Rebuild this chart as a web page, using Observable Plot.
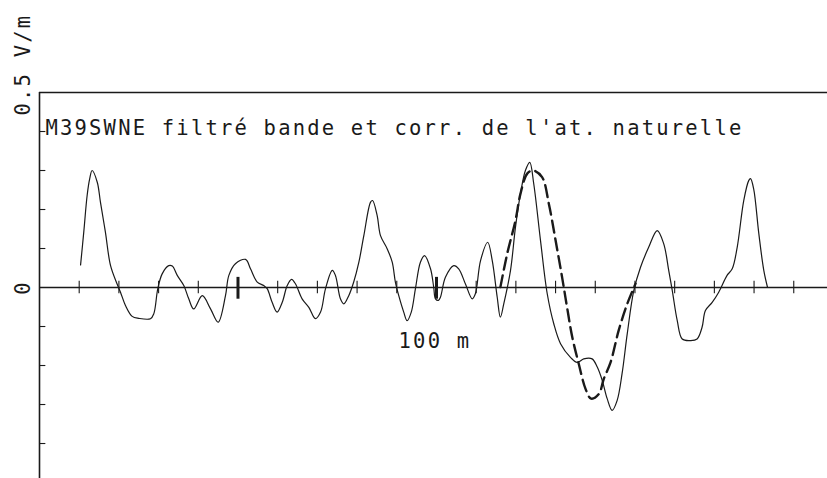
<!DOCTYPE html>
<html>
<head>
<meta charset="utf-8">
<script src="https://cdn.jsdelivr.net/npm/d3@7"></script>
<script src="https://cdn.jsdelivr.net/npm/@observablehq/plot@0.6"></script>
<style>
  html, body { margin: 0; padding: 0; background: #fff; }
</style>
</head>
<body>
<div id="chart"></div>
<script>
// Solid profile: distance (m) and field (V/m)
const distance = [20.7,22.3,24.0,25.3,26.5,29.1,30.7,33.2,35.8,39.1,40.8,43.3,46.7,50.0,55.9,57.6,59.6,61.8,65.1,66.9,69.4,72.7,75.2,77.7,82.0,86.1,90.0,93.7,95.4,98.7,103.8,106.3,109.7,113.0,114.7,117.2,119.7,122.3,124.8,127.0,129.0,132.3,135.7,139.0,141.6,144.1,147.5,149.1,151.6,153.3,155.8,158.3,160.9,163.4,166.8,167.8,170.1,171.8,175.2,177.7,179.3,181.0,183.5,185.2,187.3,189.4,191.9,194.0,197.0,198.6,199.5,201.0,202.0,204.5,208.7,211.2,214.6,218.0,219.6,222.2,225.8,228.1,230.6,232.2,233.9,237.3,239.8,242.3,244.8,247.0,249.0,252.4,255.8,259.1,262.5,267.5,270.9,274.2,278.4,281.0,283.5,286.0,288.5,291.0,293.5,296.1,299.4,302.8,306.9,311.2,314.5,317.0,318.8,321.3,323.8,328.0,331.3,333.8,335.5,338.9,342.2,346.4,349.0,351.5,354.8,357.3,358.2,359.8,362.4,364.9,366.8];
const field = [0.058,0.142,0.236,0.279,0.300,0.270,0.219,0.142,0.056,0.009,-0.012,-0.046,-0.074,-0.079,-0.080,-0.067,-0.003,0.035,0.056,0.055,0.031,0.005,-0.029,-0.055,-0.021,-0.054,-0.089,-0.021,0.031,0.061,0.072,0.048,0.014,0.005,-0.003,-0.038,-0.063,-0.038,0.005,0.021,0.009,-0.029,-0.051,-0.080,-0.063,-0.003,0.044,0.031,-0.029,-0.042,-0.021,0.014,0.065,0.133,0.219,0.223,0.185,0.133,0.099,0.065,0.014,-0.021,-0.063,-0.085,-0.063,-0.003,0.065,0.082,0.048,0.001,-0.029,-0.033,-0.025,0.026,0.056,0.048,0.009,-0.029,-0.016,0.069,0.116,0.069,-0.025,-0.076,-0.042,0.044,0.155,0.240,0.300,0.321,0.266,0.121,-0.016,-0.093,-0.144,-0.179,-0.192,-0.183,-0.183,-0.204,-0.238,-0.285,-0.315,-0.290,-0.221,-0.119,-0.008,0.052,0.103,0.146,0.112,0.044,-0.008,-0.085,-0.132,-0.136,-0.132,-0.102,-0.059,-0.038,-0.012,0.031,0.048,0.103,0.223,0.274,0.279,0.253,0.138,0.044,0.000];

// Dashed profile
const dashDistance = [232.2,235.6,239.8,242.3,245.7,248.7,253.2,256.6,260.0,263.3,265.8,268.4,271.7,275.1,277.9,281.8,284.3,287.7,291.8,296.1,300.3];
const dashField = [0.001,0.086,0.172,0.240,0.292,0.300,0.283,0.215,0.121,0.026,-0.051,-0.127,-0.196,-0.260,-0.285,-0.273,-0.234,-0.192,-0.110,-0.042,0.010];

// Axis ticks and markers
const xTicks = [20,40,60,80,100,120,140,160,180,200,220,240,260,280,300,320,340,360,380];
const yTicks = [0.4,0.3,0.2,0.1,-0.1,-0.2,-0.3,-0.4];
const markers = [100, 200];
const topValue = [0.5];
const zeroValue = [0];

// Texts
const titleText = "M39SWNE filtré bande et corr. de l'at. naturelle";
const unitText = "0.5 V/m";
const zeroText = "0";
const scaleText = "100 m";

const solid = distance.map((d, i) => ({d, v: field[i]}));
const dashed = dashDistance.map((d, i) => ({d, v: dashField[i]}));

const ink = "#1a1a1a";
const font = {fontFamily: "DejaVu Sans Mono", fontSize: 20.5, fill: ink};

const chart = Plot.plot({
  width: 827,
  height: 478,
  marginLeft: 39,
  marginRight: 0,
  marginTop: 0,
  marginBottom: 0,
  style: {background: "#fff", letterSpacing: "2.2px", fontFamily: "DejaVu Sans Mono", overflow: "visible"},
  x: {domain: [0, 397], axis: null},
  y: {domain: [-0.4897, 0.7359], axis: null},
  marks: [
    Plot.ruleY(topValue, {x1: 0, x2: 397, stroke: ink, strokeWidth: 1.5}),
    Plot.ruleY(zeroValue, {x1: 0, x2: 397, stroke: ink, strokeWidth: 1.5}),
    Plot.ruleX(zeroValue, {y1: -0.4897, y2: 0.5, stroke: ink, strokeWidth: 1.6}),
    Plot.ruleX(xTicks, {y1: 0.016, y2: -0.016, stroke: ink, strokeWidth: 1.1}),
    Plot.ruleY(yTicks, {x1: 0, x2: 3.2, stroke: ink, strokeWidth: 1.1}),
    Plot.ruleX(markers, {y1: 0.026, y2: -0.03, stroke: ink, strokeWidth: 3}),
    Plot.line(solid, {x: "d", y: "v", curve: "catmull-rom", stroke: ink, strokeWidth: 1.2}),
    Plot.line(dashed, {x: "d", y: "v", curve: "catmull-rom", stroke: ink, strokeWidth: 2.4, strokeDasharray: "12,6"}),
    Plot.text([titleText], {x: 3, y: 0.392, text: d => d, textAnchor: "start", lineAnchor: "bottom", ...font}),
    Plot.text([unitText], {x: -5.0, y: 0.441, text: d => d, rotate: -90, textAnchor: "start", lineAnchor: "bottom", ...font}),
    Plot.text([zeroText], {x: -4.6, y: 0, text: d => d, rotate: -90, textAnchor: "middle", lineAnchor: "bottom", ...font}),
    Plot.text([scaleText], {x: 180.9, y: -0.156, text: d => d, textAnchor: "start", lineAnchor: "bottom", ...font})
  ]
});
document.getElementById("chart").appendChild(chart);
</script>
</body>
</html>
